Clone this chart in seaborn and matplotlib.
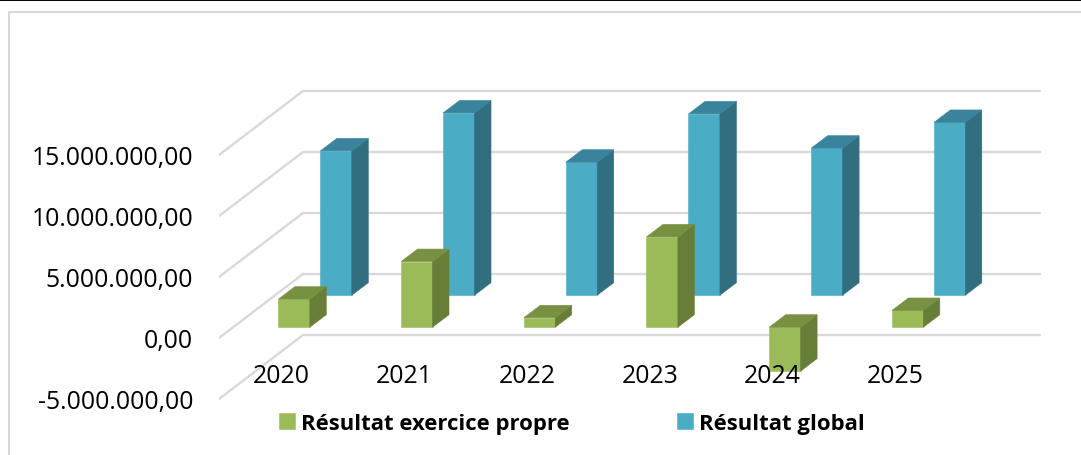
import pandas as pd
import seaborn as sns
import matplotlib.pyplot as plt
from matplotlib.lines import Line2D
from matplotlib.patches import Polygon

# Values
years = ["2020", "2021", "2022", "2023", "2024", "2025"]
resultat_propre = [2300000, 5380000, 770000, 7400000, -3600000, 1370000]
resultat_global = [11830000, 14940000, 10900000, 14860000, 12050000, 14160000]
y_ticks = [-5000000, 0, 5000000, 10000000, 15000000]

W, H = 1081, 456
PX_X = 122.7  # pixels per category
PX_Y = 61 / 5000000  # pixels per unit of value
X0_PX, Y0_PX = 294.1, 328.2  # where 2020 / zero of the front row sit
LEFT_PX = 219


def dx(px):
    return px / PX_X


def dy(px):
    return px / PX_Y


def add_depth(ax, bars, side_color, top_color):
    """Draw the 3D side and top faces of bars that are already placed."""
    for bar in bars:
        x0, x1 = bar.get_x(), bar.get_x() + bar.get_width()
        y0, y1 = sorted([bar.get_y(), bar.get_y() + bar.get_height()])
        ddx, ddy = dx(16.5), dy(12.5)
        ax.add_patch(Polygon([(x1, y0), (x1 + ddx, y0 + ddy), (x1 + ddx, y1 + ddy), (x1, y1)],
                             facecolor=side_color, edgecolor=side_color, lw=0.4))
        ax.add_patch(Polygon([(x0, y1), (x1, y1), (x1 + ddx, y1 + ddy), (x0 + ddx, y1 + ddy)],
                             facecolor=top_color, edgecolor=top_color, lw=0.4))


def fmt_label(v):
    return f"{v:,.2f}".replace(",", " ").replace(".", ",").replace(" ", ".")


sns.set_theme(style="white")
plt.rcParams['font.family'] = ['Open Sans', 'DejaVu Sans']

fig = plt.figure(figsize=(W / 100, H / 100), dpi=100)
ax = fig.add_axes([LEFT_PX / W, 0, 1 - LEFT_PX / W, 1])
ax.patch.set_alpha(0)

df = pd.DataFrame({"annee": years, "propre": resultat_propre, "global": resultat_global})

# Back series first, pushed into the depth of the chart
sns.barplot(data=df, x="annee", y="global", color="#4BACC6", saturation=1, width=0.256,
            edgecolor="#4BACC6", linewidth=0.4, label="Résultat global", ax=ax)
blue_bars = list(ax.patches)
for bar in blue_bars:
    bar.set_x(bar.get_x() + dx(42))
    bar.set_y(bar.get_y() + dy(32))
add_depth(ax, blue_bars, "#316E80", "#39849C")

n_before = len(ax.patches)
sns.barplot(data=df, x="annee", y="propre", color="#9BBB59", saturation=1, width=0.256,
            edgecolor="#9BBB59", linewidth=0.4, label="Résultat exercice propre", ax=ax)
green_bars = list(ax.patches)[n_before:]
add_depth(ax, green_bars, "#677E38", "#779140")

# Side wall and back wall gridlines
x_front = dx(LEFT_PX - X0_PX)
x_back = dx(303 - X0_PX)
x_right = dx(1040 - X0_PX)
for tick in y_ticks:
    ax.plot([x_front, x_back, x_right], [tick - dy(10.8), tick + dy(53.2), tick + dy(53.2)],
            color="#D9D9D9", lw=1.7, zorder=0.5, solid_joinstyle="miter")

ax.set_xlim(dx(LEFT_PX - X0_PX), dx(W - X0_PX))
ax.set_ylim(dy(Y0_PX - H), dy(Y0_PX))
ax.set_xlabel("")
ax.set_ylabel("")
ax.set_xticks([i - dx(12.4) for i in range(len(years))], years)
ax.set_yticks([t - dy(10.8) for t in y_ticks], [fmt_label(t) for t in y_ticks])
ax.tick_params(axis="x", length=0, pad=-66, labelsize=17.8, labelcolor="black")
ax.tick_params(axis="y", length=0, pad=18.7, labelsize=17.8, labelcolor="black")
ax.set_axisbelow(False)
sns.despine(ax=ax, left=True, bottom=True)

handles, labels = ax.get_legend_handles_labels()
ax.get_legend().remove()
order = [labels.index("Résultat exercice propre"), labels.index("Résultat global")]
fig.legend([handles[i] for i in order], [labels[i] for i in order], ncols=2, frameon=False,
           loc="center left", bbox_to_anchor=(279 / W, 1 - 424.5 / H), borderaxespad=0, borderpad=0,
           prop={"weight": "bold", "size": 15.9}, handlelength=0.72, handleheight=0.72,
           handletextpad=0.28, columnspacing=4.85, labelcolor="black")

# Chart frame and the black rule at the very top
line_c = "#D9D9D9"
fig.add_artist(Line2D([1, 9 / W, 9 / W], [1 - 13 / H, 1 - 13 / H, 0], color=line_c, lw=1.5))
fig.add_artist(Line2D([0, 1], [1 - 0.5 / H, 1 - 0.5 / H], color="black", lw=1.4))

fig.savefig("out.png", dpi=100)
